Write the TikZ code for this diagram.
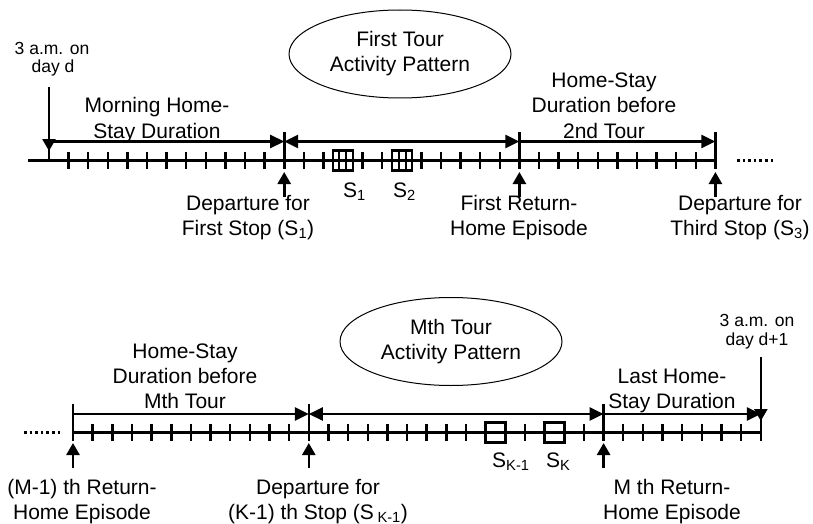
\documentclass[tikz,border=0pt]{standalone}
\usepackage{fontspec}
\setmainfont{Liberation Sans}
\usetikzlibrary{arrows.meta,shapes.geometric}
\newcommand{\bigtxt}{\fontsize{21}{25}\selectfont}
\newcommand{\smtxt}{\fontsize{17.5}{19}\selectfont}
\begin{document}
\begin{tikzpicture}[x=1pt,y=-1pt,
  tl/.style={line width=3pt},
  tk/.style={line width=2.5pt},
  mk/.style={line width=2.6pt},
  dur/.style={line width=2.6pt,-{Triangle[length=14pt,width=13pt]}},
  durb/.style={line width=2.6pt,{Triangle[length=14pt,width=13pt]}-{Triangle[length=14pt,width=13pt]}},
  upar/.style={line width=2.6pt,-{Triangle[length=12pt,width=13pt]}},
  stopbox/.style={draw,line width=2.2pt,minimum width=20pt,minimum height=20pt,inner sep=0},
  lbl/.style={font=\bigtxt,inner sep=0,anchor=base},
  slbl/.style={font=\smtxt,inner sep=0,anchor=base},
  dotline/.style={line width=2.5pt,dash pattern=on 2.6pt off 3pt},
  tour/.style={draw,ellipse,line width=1pt,minimum width=222pt,minimum height=88pt,inner sep=0,align=center,font=\bigtxt}
]
\useasboundingbox (0,0) rectangle (813,524);

% ---------------- top timeline ----------------
\coordinate (tstart) at (28,160.5);
\coordinate (tA) at (49,160.5);
\coordinate (tB) at (284.2,160.5);
\coordinate (tC) at (519.4,160.5);
\coordinate (tD) at (715.4,160.5);
\draw[tl] (tstart) -- (tD);
\foreach \k in {1,...,11,13,14,16,17,19,20,21,22,23,25,26,27,28,29,30,31,32,33}
  \draw[tk] ({49+19.6*\k},152) -- ({49+19.6*\k},169);
% markers
\coordinate (tAtop) at (49,87);
\draw[mk] (tAtop) -- (49,161.8);
\draw[upar] (tAtop) -- (49,151);
\foreach \x in {284.2,519.4,715.4}{
  \draw[mk] (\x,132) -- (\x,169);
  \draw[upar] (\x,197) -- (\x,172);
}
% durations
\coordinate (dA) at (49,141.5);
\coordinate (dB) at (284.2,141.5);
\coordinate (dC) at (519.4,141.5);
\coordinate (dD) at (715.4,141.5);
\draw[dur] (dA) -- (dB);
\draw[durb] (dB) -- (dC);
\draw[dur] (dC) -- (dD);
% stops
\node[stopbox] (s1) at (342.8,160.5) {};
\node[stopbox] (s2) at (402.0,160.5) {};
\foreach \c in {342.8,402.0}{
  \draw[line width=2pt] (\c-3.5,150.5) -- (\c-3.5,170.5);
  \draw[line width=2pt] (\c+3.5,150.5) -- (\c+3.5,170.5);
}
\draw[dotline] (737,160.5) -- (776,160.5);
% ellipse
\node[tour] (e1) at (400,54) {First Tour\\Activity Pattern};
% labels
\node[slbl] (l1) at (52,55) {3 a.m. on};
\node[slbl] (l2) at (53,73) {day d};
\node[lbl] (l3) at (157,113) {Morning Home-};
\node[lbl] (l4) at (157,138) {Stay Duration};
\node[lbl] (l5) at (604,88) {Home-Stay};
\node[lbl] (l6) at (604,113) {Duration before};
\node[lbl] (l7) at (604,138) {2nd Tour};
\node[lbl,anchor=base west] (l8) at (343,197) {S\textsubscript{1}};
\node[lbl,anchor=base west] (l9) at (393,197) {S\textsubscript{2}};
\node[lbl] (l10) at (248,210) {Departure for};
\node[lbl] (l11) at (248,235) {First Stop (S\textsubscript{1})};
\node[lbl] (l12) at (519,210) {First Return-};
\node[lbl] (l13) at (519,235) {Home Episode};
\node[lbl] (l14) at (740,210) {Departure for};
\node[lbl] (l15) at (740,235) {Third Stop (S\textsubscript{3})};

% ---------------- bottom timeline ----------------
\coordinate (bA) at (73,432.5);
\coordinate (bE) at (760.8,432.5);
\draw[tl] (bA) -- (bE);
\foreach \k in {1,...,11,13,14,15,16,17,18,19,20,23,26,28,29,30,31,32,33,34}
  \draw[tk] ({73+19.65*\k},424) -- ({73+19.65*\k},441);
\foreach \x in {73,308.8,603.6}{
  \draw[mk] (\x,404) -- (\x,441);
  \draw[upar] (\x,468) -- (\x,443);
}
\coordinate (bEtop) at (760.8,357);
\draw[mk] (bEtop) -- (760.8,441);
\draw[upar] (bEtop) -- (760.8,421);
\coordinate (uA) at (73,414);
\coordinate (uB) at (308.8,414);
\coordinate (uC) at (603.6,414);
\coordinate (uD) at (760.8,414);
\draw[dur] (uA) -- (uB);
\draw[durb] (uB) -- (uC);
\draw[dur] (uC) -- (uD);
\node[stopbox] (sk1) at (495.5,432.5) {};
\node[stopbox] (sk) at (554.5,432.5) {};
\draw[dotline] (24,432.5) -- (62,432.5);
\node[tour] (e2) at (451,341.5) {Mth Tour\\Activity Pattern};
% labels
\node[slbl] (m1) at (757,326) {3 a.m. on};
\node[slbl] (m2) at (757,345) {day d+1};
\node[lbl] (m3) at (185,358) {Home-Stay};
\node[lbl] (m4) at (185,383) {Duration before};
\node[lbl] (m5) at (185,408) {Mth Tour};
\node[lbl] (m6) at (672,383) {Last Home-};
\node[lbl] (m7) at (672,408) {Stay Duration};
\node[lbl,anchor=base west] (m8) at (492,467) {S\textsubscript{K-1}};
\node[lbl,anchor=base west] (m9) at (546,467) {S\textsubscript{K}};
\node[lbl] (m10) at (82,494) {(M-1) th Return-};
\node[lbl] (m11) at (82,519) {Home Episode};
\node[lbl] (m12) at (318,494) {Departure for};
\node[lbl] (m13) at (318,519) {(K-1) th Stop (S\,\textsubscript{K-1})};
\node[lbl] (m14) at (672,494) {M th Return-};
\node[lbl] (m15) at (672,519) {Home Episode};
\end{tikzpicture}
\end{document}
